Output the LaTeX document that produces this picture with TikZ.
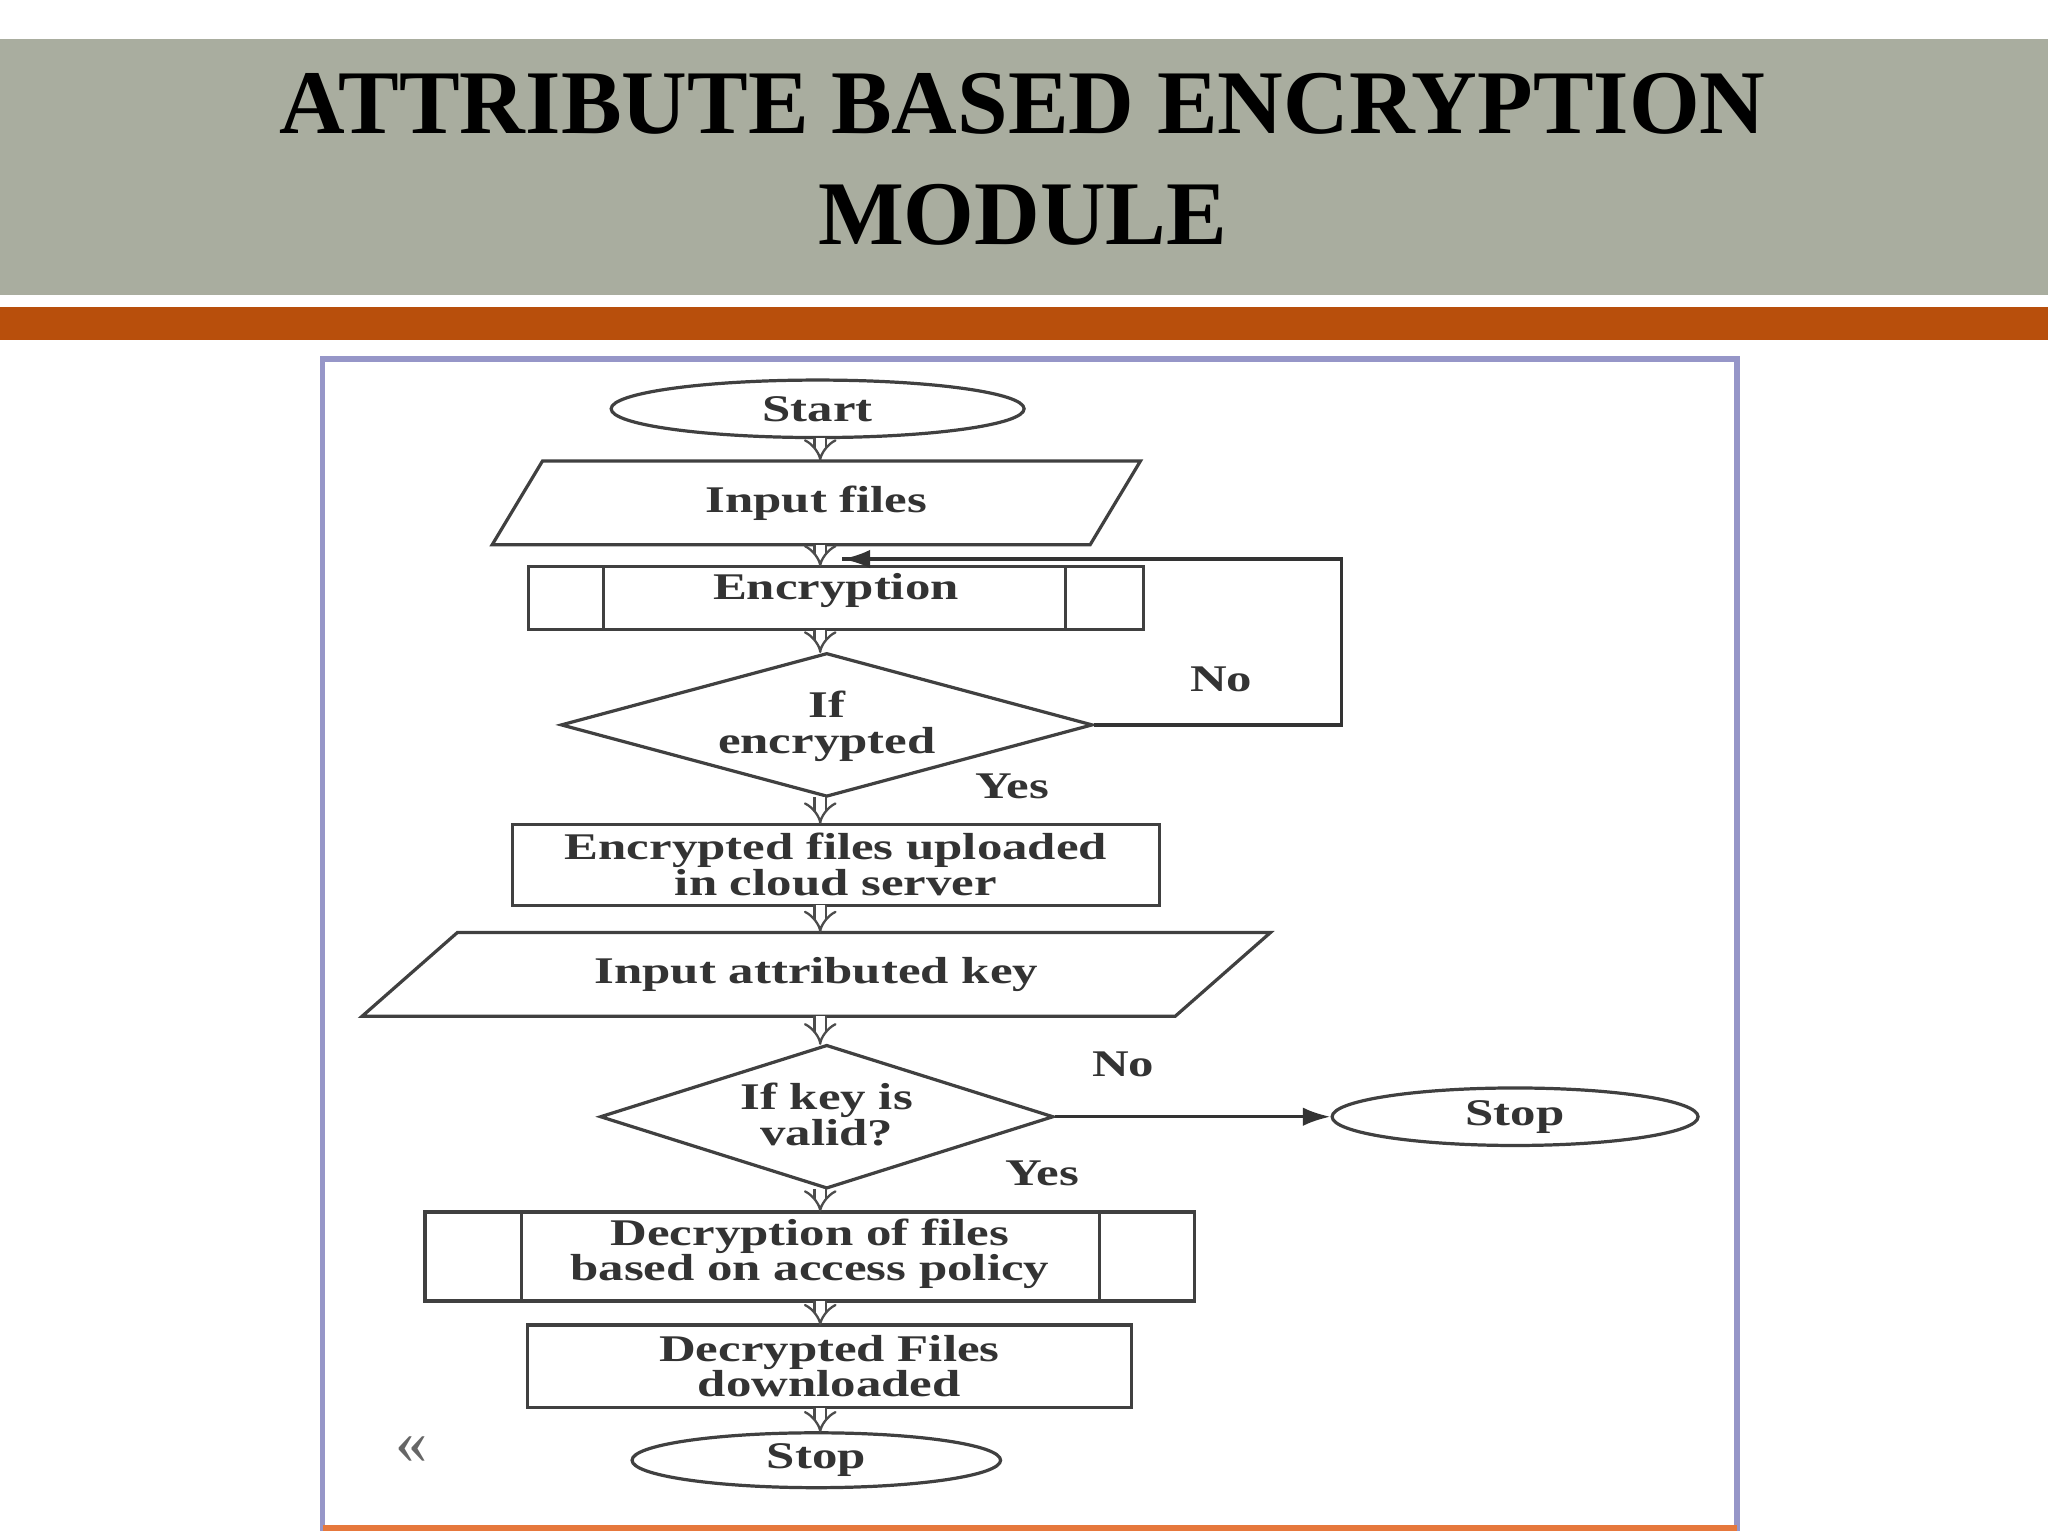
\documentclass[tikz,border=0pt]{standalone}
\usepackage{fontspec}
\setmainfont{Liberation Serif}
\newfontfamily\flowfont{Liberation Serif}[FakeStretch=1.35]
\usetikzlibrary{shapes.geometric,arrows.meta}
\begin{document}
\begin{tikzpicture}[x=0.01cm,y=-0.01cm,
  txt/.style={font=\flowfont\fontsize{8.2}{7.8}\selectfont\bfseries,text=black!80,align=center},
  shp/.style={draw=black!75,line width=0.7pt,txt,inner sep=0pt},
  ell/.style={shp,ellipse},
  par/.style={shp,trapezium,trapezium stretches body,trapezium right angle=#1,trapezium left angle=180-#1},
  box/.style={shp,rectangle},
  dia/.style={shp,diamond,aspect=3.7},
  flow/.style={draw=black!70,double,double distance=2pt,line width=0.5pt,-{Implies}},
  conn/.style={draw=black!80,line width=0.7pt,-{Latex[length=6pt,width=4pt]}}]
\useasboundingbox (0,0) rectangle (1568,1176);
\fill[white] (0,0) rectangle (1568,1176);
\fill[fill={rgb,255:red,169;green,173;blue,159}] (0,30) rectangle (1568,226);
\fill[fill={rgb,255:red,184;green,79;blue,12}] (0,235) rectangle (1568,260);
\node[font=\fontsize{19.8}{24}\selectfont\bfseries,align=center] (title) at (783,122) {ATTRIBUTE BASED ENCRYPTION\\MODULE};
\draw[draw={rgb,255:red,150;green,150;blue,200},line width=1.2pt] (247,275) rectangle (1330,1170);
\draw[draw={rgb,255:red,230;green,120;blue,60},line width=1.2pt] (247,1170) -- (1330,1170);

\node[ell,minimum width=3.16cm,minimum height=0.44cm] (start) at (626,313) {Start};
\node[par=145.5,minimum width=4.96cm,minimum height=0.64cm] (in1) at (625,385) {Input files};
\node[box,minimum width=4.71cm,minimum height=0.48cm] (enc) at (640,458) {};
\node[txt] at (640,452) {Encryption};
\draw[shp] (462,434) -- (462,482) (816,434) -- (816,482);
\node[dia,minimum width=4.07cm,minimum height=1.10cm] (d1) at (633,555) {};
\node[txt] at (633,556) {If\\encrypted};
\node[box,minimum width=4.95cm,minimum height=0.62cm] (up) at (640,662) {Encrypted files uploaded\\in cloud server};
\node[par=160.2,minimum width=6.95cm,minimum height=0.64cm] (in2) at (625,746) {Input attributed key};
\node[dia,minimum width=3.47cm,minimum height=1.10cm] (d2) at (633,855) {};
\node[txt] at (633,853) {If key is\\valid?};
\node[ell,minimum width=2.80cm,minimum height=0.44cm] (stop1) at (1160,855) {Stop};
\node[box,minimum width=5.89cm,minimum height=0.68cm] (dec) at (620,962) {};
\node[txt] at (620,960) {Decryption of files\\based on access policy};
\draw[shp] (399,928) -- (399,996) (842,928) -- (842,996);
\node[box,minimum width=4.62cm,minimum height=0.63cm] (dl) at (635,1046) {Decrypted Files\\downloaded};
\node[ell,minimum width=2.82cm,minimum height=0.42cm] (stop2) at (625,1118) {Stop};
\node[font=\fontsize{14}{14}\selectfont,text=black!60] (chev) at (315,1110) {\guillemotleft};

\draw[flow] (628,335) -- (628,353);
\draw[flow] (628,417) -- (628,434);
\draw[flow] (628,482) -- (628,500);
\draw[flow] (628,610) -- (628,631);
\draw[flow] (628,693) -- (628,714);
\draw[flow] (628,778) -- (628,800);
\draw[flow] (628,910) -- (628,928);
\draw[flow] (628,996) -- (628,1015);
\draw[flow] (628,1078) -- (628,1097);

\coordinate (l2) at (1027,428);
\coordinate (l3) at (645,428);
\draw[draw=black!80,line width=0.7pt] (d1.east) -| (l2) -- (l3);
\draw[conn] (700,428) -- (l3);
\node[txt] at (935,520) {No};
\node[txt] at (775,602) {Yes};
\draw[conn] (d2.east) -- (stop1.west);
\node[txt] at (860,815) {No};
\node[txt] at (798,898) {Yes};
\end{tikzpicture}
\end{document}
